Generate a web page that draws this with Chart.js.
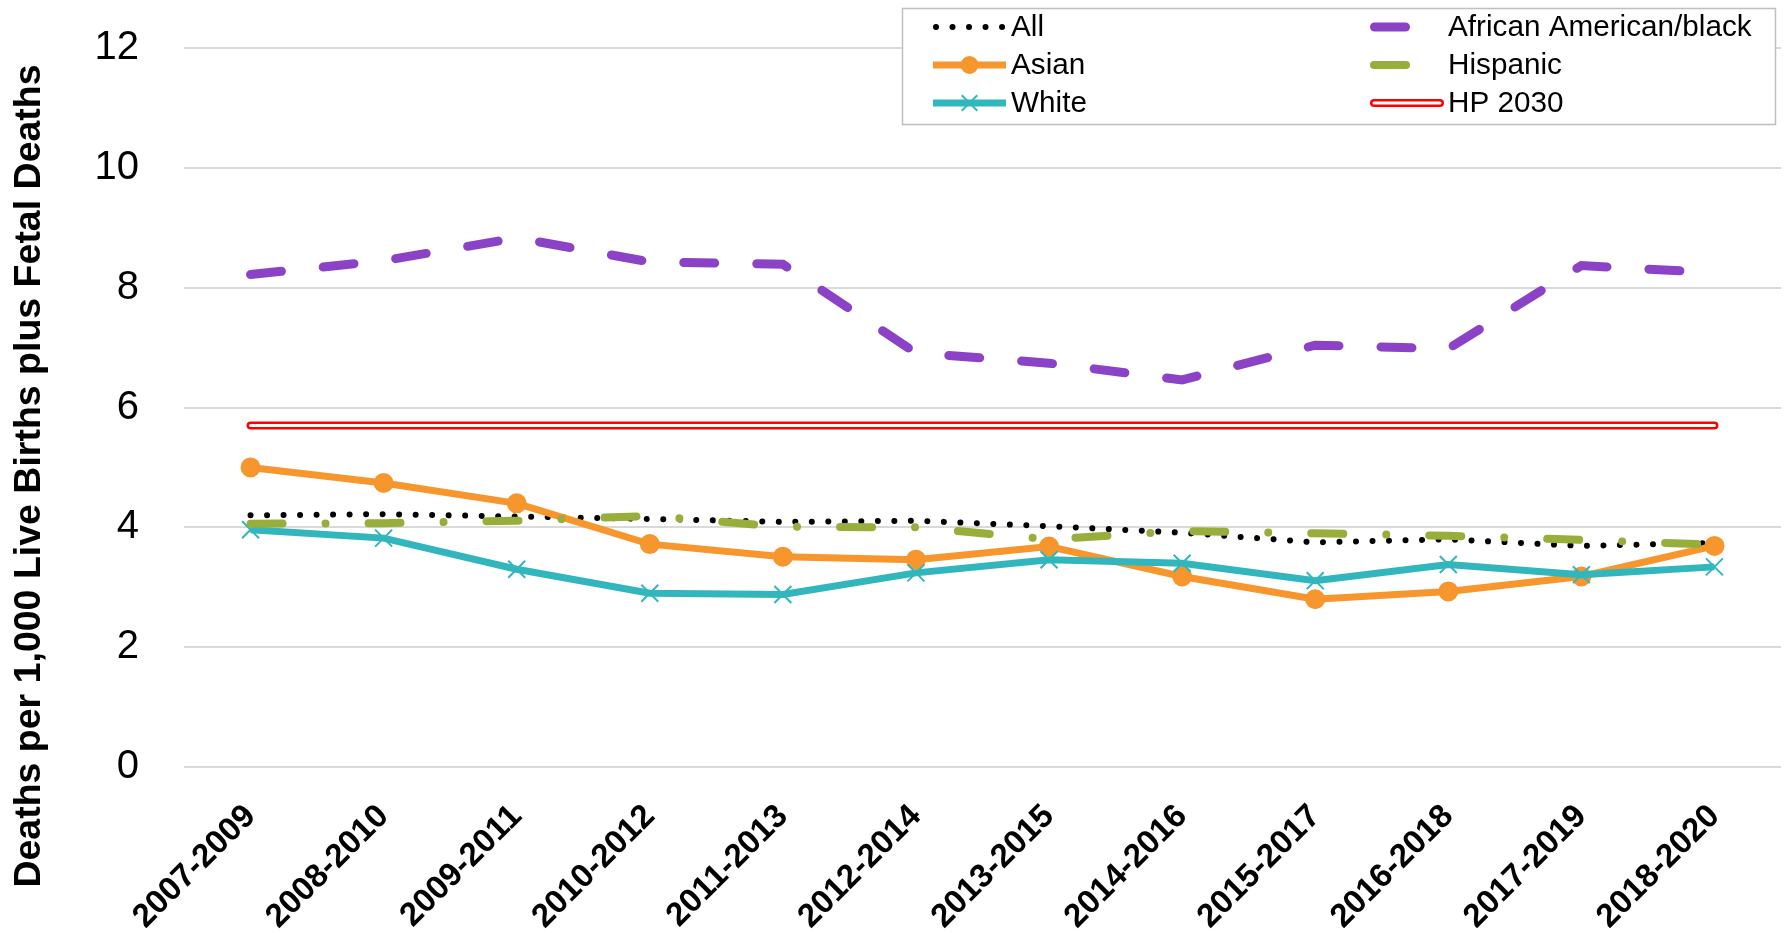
<!DOCTYPE html>
<html>
<head>
<meta charset="utf-8">
<script src="https://cdn.jsdelivr.net/npm/chart.js@4.4.1/dist/chart.umd.min.js"></script>
<style>
  html, body { margin: 0; padding: 0; background: #fff; }
  #wrap { width: 1784px; height: 933px; }
</style>
</head>
<body>
<div id="wrap"><canvas id="chart" width="1784" height="933"></canvas></div>
<script>
const periods = ['2007-2009', '2008-2010', '2009-2011', '2010-2012', '2011-2013', '2012-2014',
  '2013-2015', '2014-2016', '2015-2017', '2016-2018', '2017-2019', '2018-2020'];

const allRates      = [4.20, 4.22, 4.18, 4.14, 4.09, 4.11, 4.02, 3.91, 3.75, 3.80, 3.69, 3.74];
const asianRates    = [5.00, 4.74, 4.40, 3.72, 3.51, 3.46, 3.68, 3.18, 2.80, 2.93, 3.18, 3.69];
const whiteRates    = [3.96, 3.82, 3.30, 2.90, 2.88, 3.24, 3.46, 3.40, 3.11, 3.38, 3.21, 3.34];
const blackRates    = [8.22, 8.45, 8.83, 8.43, 8.39, 6.91, 6.74, 6.46, 7.04, 6.98, 8.37, 8.25];
const hispanicRates = [4.06, 4.07, 4.11, 4.19, 4.01, 4.00, 3.80, 3.94, 3.90, 3.86, 3.79, 3.71];
const hp2030Target  = [5.7, 5.7, 5.7, 5.7, 5.7, 5.7, 5.7, 5.7, 5.7, 5.7, 5.7, 5.7];

const yTicks = [0, 2, 4, 6, 8, 10, 12];
const yTitle = 'Deaths per 1,000 Live Births plus Fetal Deaths';

const FONT = "'Liberation Sans', Arial, sans-serif";

const dsAll = {
  label: 'All', data: allRates, borderColor: '#000', borderWidth: 6,
  borderDash: [0.01, 16.5], borderCapStyle: 'round', pointRadius: 0, order: 7
};
const dsAsian = {
  label: 'Asian', data: asianRates, borderColor: '#F7962C', borderWidth: 7,
  pointStyle: 'circle', pointRadius: 9, pointBorderWidth: 2,
  pointBackgroundColor: '#F7962C', pointBorderColor: '#F7962C', order: 6
};
const dsWhite = {
  label: 'White', data: whiteRates, borderColor: '#31B6BD', borderWidth: 7,
  pointStyle: 'crossRot', pointRadius: 12, pointBorderWidth: 2,
  pointBackgroundColor: '#31B6BD', pointBorderColor: '#31B6BD', order: 5
};
const dsBlack = {
  label: 'African American/black', data: blackRates, borderColor: '#8C42C6', borderWidth: 9,
  borderDash: [31, 42], borderCapStyle: 'round', pointRadius: 0, order: 4
};
const dsHispanic = {
  label: 'Hispanic', data: hispanicRates, borderColor: '#97AF3A', borderWidth: 8,
  borderDash: [32, 43, 0.01, 43], borderCapStyle: 'round', pointRadius: 0, order: 3
};
const dsHp = {
  label: 'HP 2030', data: hp2030Target, borderColor: '#FF0000', borderWidth: 8,
  borderCapStyle: 'round', pointRadius: 0, order: 2
};
const dsHpInner = {
  label: 'HP 2030 inner', data: hp2030Target, borderColor: '#FFFFFF', borderWidth: 3,
  borderCapStyle: 'round', pointRadius: 0, order: 1
};

// legend drawn by hand: two columns inside a grey box, like the original
const legendCols = [
  [dsAll, dsAsian, dsWhite],
  [dsBlack, dsHispanic, dsHp]
];

function drawSample(ctx, ds, x0, x1, y) {
  ctx.save();
  ctx.lineCap = ds.borderCapStyle || 'butt';
  ctx.strokeStyle = ds.borderColor;
  ctx.lineWidth = ds.borderWidth;
  ctx.setLineDash(ds.borderDash || []);
  const pad = ds.borderCapStyle === 'round' ? ds.borderWidth / 2 : 0;
  ctx.beginPath();
  ctx.moveTo(x0 + pad, y);
  ctx.lineTo(x1 - pad, y);
  ctx.stroke();
  if (ds === dsHp) {
    ctx.strokeStyle = dsHpInner.borderColor;
    ctx.lineWidth = dsHpInner.borderWidth;
    ctx.stroke();
  }
  if (ds.pointRadius) {
    ctx.setLineDash([]);
    ctx.fillStyle = ds.pointBackgroundColor;
    ctx.strokeStyle = ds.pointBorderColor;
    ctx.lineWidth = ds.pointBorderWidth;
    Chart.helpers.drawPoint(ctx, {
      pointStyle: ds.pointStyle, radius: ds.pointRadius - 1,
      borderWidth: ds.pointBorderWidth, rotation: 0
    }, (x0 + x1) / 2, y);
  }
  ctx.restore();
}

const extras = {
  id: 'extras',
  afterDraw(chart) {
    const ctx = chart.ctx;
    ctx.save();
    // legend box
    ctx.fillStyle = '#fff';
    ctx.fillRect(902, 8, 874, 116);
    ctx.strokeStyle = '#BFBFBF';
    ctx.lineWidth = 1.5;
    ctx.strokeRect(902.5, 8.5, 873, 116);
    const rows = [27, 65, 103];
    const cols = [{ x0: 933, x1: 1006, tx: 1011 }, { x0: 1370, x1: 1444, tx: 1448 }];
    ctx.font = '29.7px ' + FONT;
    ctx.textBaseline = 'middle';
    ctx.textAlign = 'left';
    legendCols.forEach((list, c) => {
      list.forEach((ds, r) => {
        drawSample(ctx, ds, cols[c].x0, cols[c].x1, rows[r]);
        ctx.fillStyle = '#000';
        ctx.fillText(ds.label, cols[c].tx, rows[r] + 1);
      });
    });
    // y axis title
    ctx.translate(30, 476);
    ctx.rotate(-Math.PI / 2);
    ctx.font = 'bold 37.5px ' + FONT;
    ctx.textAlign = 'center';
    ctx.fillStyle = '#000';
    ctx.fillText(yTitle, 0, 0);
    ctx.restore();
  }
};

new Chart(document.getElementById('chart'), {
  type: 'line',
  data: {
    labels: periods,
    datasets: [dsAll, dsAsian, dsWhite, dsBlack, dsHispanic, dsHp, dsHpInner]
  },
  options: {
    responsive: false,
    animation: false,
    devicePixelRatio: 1,
    layout: { autoPadding: false, padding: { top: 48, right: 3, left: 0, bottom: 0 } },
    elements: { line: { tension: 0, fill: false } },
    plugins: { legend: { display: false }, tooltip: { enabled: false } },
    scales: {
      x: {
        offset: true,
        grid: { display: false },
        border: { display: false },
        ticks: {
          autoSkip: false, minRotation: 45, maxRotation: 45, padding: 22,
          color: '#000', font: { family: FONT, size: 33, weight: 'bold' }
        },
        afterFit(s) { s.height = 166; s.paddingLeft = 0; s.paddingRight = 0; }
      },
      y: {
        min: 0, max: 12,
        afterBuildTicks(s) { s.ticks = yTicks.map(v => ({ value: v })); },
        grid: { color: '#D9D9D9', lineWidth: 2, drawTicks: false },
        border: { display: false },
        ticks: { padding: 45, color: '#000', font: { family: FONT, size: 40 } },
        afterFit(s) { s.width = 184; s.paddingTop = 0; s.paddingBottom = 0; }
      }
    }
  },
  plugins: [extras]
});
</script>
</body>
</html>
